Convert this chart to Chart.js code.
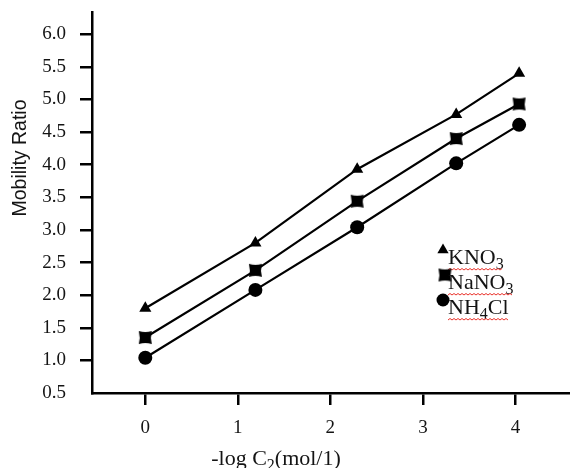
<!DOCTYPE html>
<html>
<head>
<meta charset="utf-8">
<script src="https://cdn.jsdelivr.net/npm/chart.js@4.4.1/dist/chart.umd.min.js"></script>
<style>
  html, body { margin: 0; padding: 0; background: #fff; }
</style>
</head>
<body>
<canvas id="mobilityChart" width="570" height="468"></canvas>
<script>
// --- Données ---
const logConc = [0, 1.19, 2.29, 3.36, 4.04];           // -log C2 (mol/l)
const kno3Ratio = [1.80, 2.80, 3.93, 4.77, 5.40];
const nano3Ratio = [1.35, 2.38, 3.44, 4.40, 4.93];
const nh4clRatio = [1.04, 2.08, 3.04, 4.02, 4.61];
const seriesLabels = ['KNO3', 'NaNO3', 'NH4Cl'];
const xTickValues = [0, 1, 2, 3, 4];
const yTickValues = [0.5, 1.0, 1.5, 2.0, 2.5, 3.0, 3.5, 4.0, 4.5, 5.0, 5.5, 6.0];
const xTitle = '-log C_2(mol/1)';
const yTitle = 'Mobility Ratio';

const INK = '#141414';
const SERIF = '"Liberation Serif", "Times New Roman", serif';
const SANS = '"Liberation Sans", Arial, sans-serif';

// carré aux côtés creusés (marqueur NaNO3)
function makeNotchedSquare(size) {
  const c = document.createElement('canvas');
  c.width = size; c.height = size;
  const g = c.getContext('2d');
  const a = 1, b = size - 1, m = size / 2, dip = size * 0.12;
  g.fillStyle = '#000';
  g.beginPath();
  g.moveTo(a, a);
  g.quadraticCurveTo(m, a + dip, b, a);
  g.quadraticCurveTo(b - dip, m, b, b);
  g.quadraticCurveTo(m, b - dip, a, b);
  g.quadraticCurveTo(a + dip, m, a, a);
  g.fill();
  return c;
}
const squareMark = makeNotchedSquare(15);

const pointsOf = (ys) => logConc.map((x, i) => ({ x: x, y: ys[i] }));

// texte avec indices : "_3" -> 3 en indice
function drawRich(ctx, text, x, y, size, family, align) {
  const parts = [];
  for (let i = 0; i < text.length; i++) {
    if (text[i] === '_' && i + 1 < text.length) { parts.push({ t: text[i + 1], sub: true }); i++; }
    else parts.push({ t: text[i], sub: false });
  }
  const subSize = Math.round(size * 0.72);
  let total = 0;
  parts.forEach(p => {
    ctx.font = (p.sub ? subSize : size) + 'px ' + family;
    p.w = ctx.measureText(p.t).width;
    total += p.w;
  });
  let cx = align === 'center' ? x - total / 2 : x;
  ctx.textAlign = 'left';
  ctx.textBaseline = 'alphabetic';
  parts.forEach(p => {
    ctx.font = (p.sub ? subSize : size) + 'px ' + family;
    ctx.fillText(p.t, cx, p.sub ? y + size * 0.22 : y);
    cx += p.w;
  });
  return { left: align === 'center' ? x - total / 2 : x, width: total };
}

function drawMarker(ctx, style, x, y) {
  ctx.fillStyle = '#000';
  if (style instanceof HTMLCanvasElement) {
    ctx.drawImage(style, x - style.width / 2, y - style.height / 2);
  } else if (style === 'triangle') {
    const r = 6.5;
    ctx.beginPath();
    ctx.moveTo(x, y - r);
    ctx.lineTo(x + r * 0.866, y + r * 0.5);
    ctx.lineTo(x - r * 0.866, y + r * 0.5);
    ctx.closePath();
    ctx.fill();
  } else {
    ctx.beginPath();
    ctx.arc(x, y, 6.5, 0, Math.PI * 2);
    ctx.fill();
  }
}

function squiggle(ctx, x0, x1, y) {
  ctx.save();
  ctx.strokeStyle = '#e8302a';
  ctx.lineWidth = 1;
  ctx.beginPath();
  let up = true;
  ctx.moveTo(x0, y);
  for (let x = x0 + 2; x <= x1; x += 2) {
    ctx.lineTo(x, up ? y - 1.5 : y);
    up = !up;
  }
  ctx.stroke();
  ctx.restore();
}

// titres d'axes et légende dessinés à la main (placement libre comme sur la figure)
const annotations = {
  id: 'annotations',
  afterDraw(chart) {
    const ctx = chart.ctx;
    const area = chart.chartArea;
    ctx.save();
    ctx.fillStyle = INK;

    // titre Y
    ctx.save();
    ctx.translate(21, 158);
    ctx.rotate(-Math.PI / 2);
    ctx.font = '19.5px ' + SANS;
    ctx.textAlign = 'center';
    ctx.textBaseline = 'middle';
    ctx.fillText(yTitle, 0, 0);
    ctx.restore();

    // titre X
    ctx.fillStyle = INK;
    drawRich(ctx, xTitle, 276, 465, 22, SERIF, 'center');

    // légende
    const lx = area.left + 356, ly = area.top + 252;
    chart.data.datasets.forEach((ds, i) => {
      const base = ly + i * 25;
      const mx = ds.pointStyle instanceof HTMLCanvasElement ? 445 : 443;
      drawMarker(ctx, ds.pointStyle, mx, base - 14);
      ctx.fillStyle = INK;
      const box = drawRich(ctx, ds.label.replace(/(\d)/g, '_$1'), lx, base, 22, SERIF, 'left');
      squiggle(ctx, box.left, box.left + box.width, base + 6);
    });
    ctx.restore();
  }
};

const tickFont = { family: SERIF, size: 19 };

new Chart(document.getElementById('mobilityChart'), {
  type: 'line',
  data: {
    datasets: [
      { label: seriesLabels[0], data: pointsOf(kno3Ratio), pointStyle: 'triangle', pointRadius: 7 },
      { label: seriesLabels[1], data: pointsOf(nano3Ratio), pointStyle: squareMark, pointRadius: 7 },
      { label: seriesLabels[2], data: pointsOf(nh4clRatio), pointStyle: 'circle', pointRadius: 7 }
    ].map(ds => Object.assign(ds, {
      borderColor: '#000',
      backgroundColor: '#000',
      pointBackgroundColor: '#000',
      pointBorderColor: '#000',
      pointBorderWidth: 0,
      borderWidth: 2.2,
      tension: 0,
      fill: false
    }))
  },
  options: {
    responsive: false,
    animation: false,
    devicePixelRatio: 1,
    layout: { autoPadding: false, padding: { top: 12, left: 0, right: 0, bottom: 0 } },
    plugins: {
      legend: { display: false },
      tooltip: { enabled: false }
    },
    scales: {
      x: {
        type: 'linear',
        min: -0.576,
        max: 4.59,
        afterBuildTicks: (scale) => { scale.ticks = xTickValues.map(v => ({ value: v })); },
        afterFit: (scale) => { scale.height = 75; scale.paddingLeft = 0; scale.paddingRight = 0; },
        border: { display: true, color: '#000', width: 2.5 },
        grid: { drawOnChartArea: false, drawTicks: true, tickLength: 12, color: '#000', lineWidth: 2.5 },
        ticks: { font: tickFont, color: INK, padding: 12, maxRotation: 0, callback: (v) => String(v) }
      },
      y: {
        type: 'linear',
        min: 0.5,
        max: 6.34,
        afterBuildTicks: (scale) => { scale.ticks = yTickValues.map(v => ({ value: v })); },
        afterFit: (scale) => { scale.width = 92; scale.paddingTop = 0; scale.paddingBottom = 0; },
        border: { display: true, color: '#000', width: 2.5 },
        grid: {
          drawOnChartArea: false, drawTicks: true, tickLength: 12, lineWidth: 2.5,
          color: (c) => (c.tick && c.tick.value === 0.5 ? 'rgba(0,0,0,0)' : '#000')
        },
        ticks: { font: tickFont, color: INK, padding: 14, callback: (v) => v.toFixed(1) }
      }
    }
  },
  plugins: [annotations]
});
</script>
</body>
</html>
